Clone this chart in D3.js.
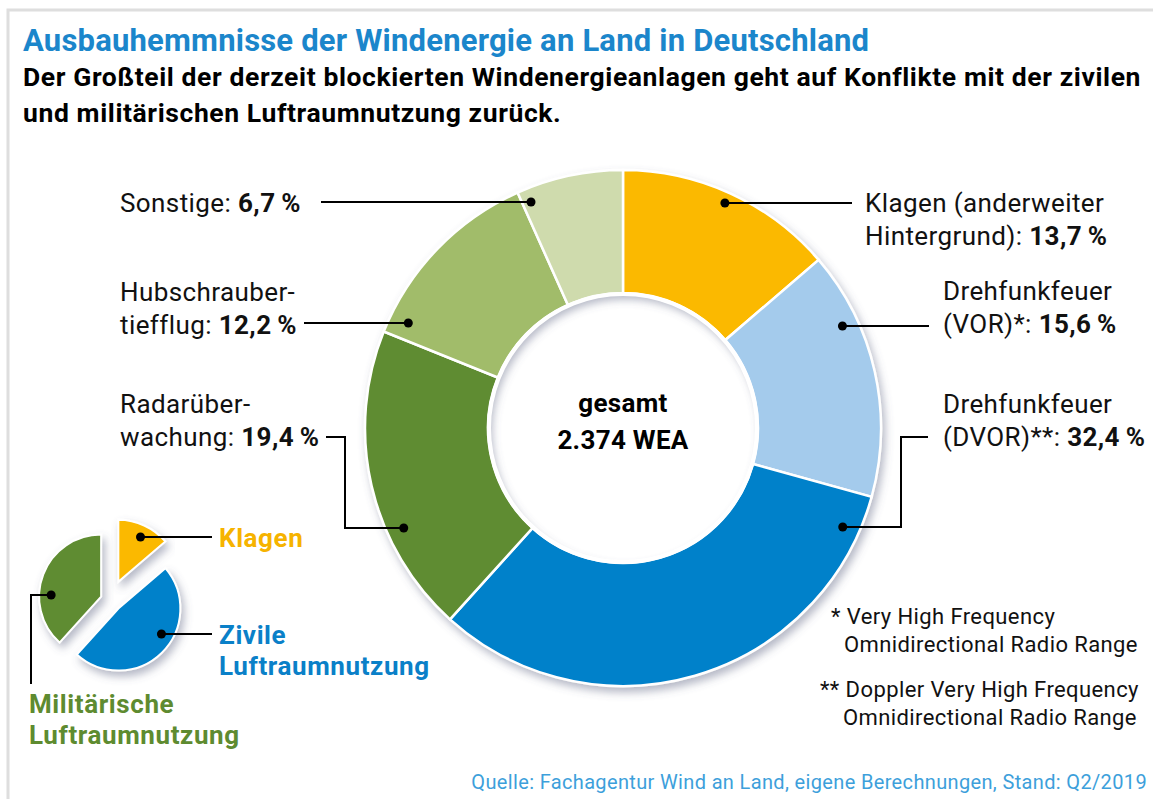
<!DOCTYPE html>
<html lang="de">
<head>
<meta charset="UTF-8">
<title>Ausbauhemmnisse der Windenergie an Land</title>
<script src="https://cdn.jsdelivr.net/npm/d3@7"></script>
<style>
  body { margin: 0; background: #fff; }
  svg { display: block; font-family: Roboto, "Open Sans", sans-serif; }
  .lbl { font-size: 26px; letter-spacing: 0.4px; fill: #111; }
  .lead { fill: none; stroke: #000; stroke-width: 2px; }
</style>
</head>
<body>
<svg width="1153" height="799"></svg>
<script>
// --- data ---
var categories = ["Klagen (anderweiter Hintergrund)", "Drehfunkfeuer (VOR)*", "Drehfunkfeuer (DVOR)**",
                  "Radarüberwachung", "Hubschraubertiefflug", "Sonstige"];
var shares = [13.7, 15.6, 32.4, 19.4, 12.2, 6.7];
var total = 2374;

var groups = ["Klagen", "Zivile Luftraumnutzung", "Militärische Luftraumnutzung"];
var groupShares = [13.7, 48.0, 38.3];

// label text per slice (last line gets the value in bold)
var labelLines = [
  ["Klagen (anderweiter", "Hintergrund): "],
  ["Drehfunkfeuer", "(VOR)*: "],
  ["Drehfunkfeuer", "(DVOR)**: "],
  ["Radarüber-", "wachung: "],
  ["Hubschrauber-", "tiefflug: "],
  ["Sonstige: "]
];
var groupLabelLines = [["Klagen"], ["Zivile", "Luftraumnutzung"], ["Militärische", "Luftraumnutzung"]];

var colors = ["#fbb900", "#a4cbec", "#0081ca", "#5f8c32", "#a1bc6b", "#cfdbad"];
var groupColors = ["#fbb900", "#0081ca", "#5f8c32"];
var groupTextColors = ["#f6b300", "#0a80c8", "#5e8b30"];

var de = d3.formatLocale({decimal: ",", thousands: ".", grouping: [3], currency: ["", " €"]});
var fmtPct = function(v) { return de.format(".1f")(v) + "\u2009%"; };

var svg = d3.select("svg");

// shadow filter
var defs = svg.append("defs");
var f = defs.append("filter").attr("id", "shadow")
  .attr("x", "-20%").attr("y", "-20%").attr("width", "140%").attr("height", "140%");
f.append("feDropShadow").attr("dx", 3).attr("dy", 5).attr("stdDeviation", 4)
  .attr("flood-color", "#5a6080").attr("flood-opacity", 0.45);

// frame
svg.append("path")
  .attr("d", "M8,799V10H1153")
  .attr("fill", "none").attr("stroke", "#dedede").attr("stroke-width", 3);

// titles
svg.append("text").attr("x", 23).attr("y", 51)
  .attr("font-size", 31).attr("font-weight", 700).attr("fill", "#1b86cb")
  .attr("letter-spacing", 0.2)
  .text("Ausbauhemmnisse der Windenergie an Land in Deutschland");
svg.append("text").attr("x", 23).attr("y", 86)
  .attr("font-size", 26.5).attr("font-weight", 700).attr("fill", "#000")
  .attr("letter-spacing", 0.6)
  .text("Der Großteil der derzeit blockierten Windenergieanlagen geht auf Konflikte mit der zivilen");
svg.append("text").attr("x", 23).attr("y", 122)
  .attr("font-size", 26.5).attr("font-weight", 700).attr("fill", "#000")
  .attr("letter-spacing", 0.6)
  .text("und militärischen Luftraumnutzung zurück.");

// --- main donut ---
var cx = 623, cy = 428, rOut = 258, rIn = 135;
var pie = d3.pie().sort(null).value(function(d) { return d; });
var arcs = pie(shares);
var arc = d3.arc().innerRadius(rIn).outerRadius(rOut);

var donut = svg.append("g").attr("transform", "translate(" + cx + "," + cy + ")");
donut.append("g").attr("filter", "url(#shadow)")
  .selectAll("path").data(arcs).enter().append("path")
    .attr("d", arc)
    .attr("fill", function(d, i) { return colors[i]; })
    .attr("stroke", "#fff").attr("stroke-width", 2.5);
donut.append("circle").attr("r", rIn - 1).attr("fill", "none")
  .attr("stroke", "#fff").attr("stroke-width", 4);

donut.append("text").attr("text-anchor", "middle").attr("y", -16)
  .attr("font-size", 26).attr("font-weight", 700).attr("letter-spacing", 0.3).text("gesamt");
donut.append("text").attr("text-anchor", "middle").attr("y", 21)
  .attr("font-size", 26).attr("font-weight", 700).attr("letter-spacing", 0.3)
  .text(de.format(",")(total) + " WEA");

// dot on a circle of radius r at height y (side -1 left, +1 right)
function dotAt(ox, oy, r, y, side) {
  var dy = y - oy;
  return [ox + side * Math.sqrt(r * r - dy * dy), y];
}

// leader layout: dot radius, side, leader path (first point fixes the dot height), text anchor
var leaders = [
  {r: 247, side: 1,  path: [[852, 203]],                     tx: 865, ty: 212},
  {r: 242, side: 1,  path: [[929, 326]],                     tx: 943, ty: 300},
  {r: 241, side: 1,  path: [[901, 527], [901, 437], [928, 437]], tx: 943, ty: 413},
  {r: 241, side: -1, path: [[345, 528], [345, 437], [326, 437]], tx: 120, ty: 413},
  {r: 239, side: -1, path: [[304, 323]],                     tx: 120, ty: 301},
  {r: 244, side: -1, path: [[321, 202]],                     tx: 120, ty: 212}
];

leaders.forEach(function(l, i) {
  var pts = [dotAt(cx, cy, l.r, l.path[0][1], l.side)].concat(l.path);
  svg.append("path").attr("class", "lead").attr("d", d3.line()(pts));
  svg.append("circle").attr("cx", pts[0][0]).attr("cy", pts[0][1]).attr("r", 4.5).attr("fill", "#000");

  var t = svg.append("text").attr("class", "lbl").attr("x", l.tx).attr("y", l.ty);
  labelLines[i].forEach(function(s, j) {
    t.append("tspan").attr("x", l.tx).attr("dy", j === 0 ? 0 : 33).text(s);
  });
  t.append("tspan").attr("font-weight", 700).text(fmtPct(shares[i]));
});

// --- small exploded pie ---
var sx = 110, sy = 600, sr = 62;
var explode = [20, 12, 9.5];
var sArcs = pie(groupShares);
var sArc = d3.arc().innerRadius(0).outerRadius(sr);
var offs = sArcs.map(function(d, i) {
  return d3.pointRadial((d.startAngle + d.endAngle) / 2, explode[i]);
});
var small = svg.append("g").attr("transform", "translate(" + sx + "," + sy + ")");
small.selectAll("path").data(sArcs).enter().append("path")
  .attr("transform", function(d, i) { return "translate(" + offs[i][0] + "," + offs[i][1] + ")"; })
  .attr("d", sArc)
  .attr("fill", function(d, i) { return groupColors[i]; })
  .attr("stroke", "#fff").attr("stroke-width", 2)
  .attr("filter", "url(#shadow)");

var sLeaders = [
  {side: 1,  path: [[212, 537]], tx: 219, ty: 547},
  {side: 1,  path: [[212, 634]], tx: 219, ty: 644},
  {side: -1, path: [[31, 595], [31, 684]], tx: 29, ty: 713}
];
sLeaders.forEach(function(l, i) {
  var pts = [dotAt(sx + offs[i][0], sy + offs[i][1], 50, l.path[0][1], l.side)].concat(l.path);
  svg.append("path").attr("class", "lead").attr("d", d3.line()(pts));
  svg.append("circle").attr("cx", pts[0][0]).attr("cy", pts[0][1]).attr("r", 4.5).attr("fill", "#000");
  var t = svg.append("text").attr("x", l.tx).attr("y", l.ty)
    .attr("font-size", 26).attr("font-weight", 700).attr("letter-spacing", 0.6)
    .attr("fill", groupTextColors[i]);
  groupLabelLines[i].forEach(function(s, j) {
    t.append("tspan").attr("x", l.tx).attr("dy", j === 0 ? 0 : 31).text(s);
  });
});

// footnotes
var notes = [
  {x: 831, y: 624, t: "* Very High Frequency"},
  {x: 844, y: 652, t: "Omnidirectional Radio Range"},
  {x: 820, y: 697, t: "** Doppler Very High Frequency"},
  {x: 843, y: 725, t: "Omnidirectional Radio Range"}
];
svg.selectAll(".note").data(notes).enter().append("text")
  .attr("class", "note").attr("x", function(d) { return d.x; }).attr("y", function(d) { return d.y; })
  .attr("font-size", 22).attr("letter-spacing", 0.4).attr("fill", "#111").text(function(d) { return d.t; });

svg.append("text").attr("x", 1147).attr("y", 789).attr("text-anchor", "end")
  .attr("font-size", 20).attr("letter-spacing", 0.35).attr("fill", "#3d9fdb")
  .text("Quelle: Fachagentur Wind an Land, eigene Berechnungen, Stand: Q2/2019");
</script>
</body>
</html>
